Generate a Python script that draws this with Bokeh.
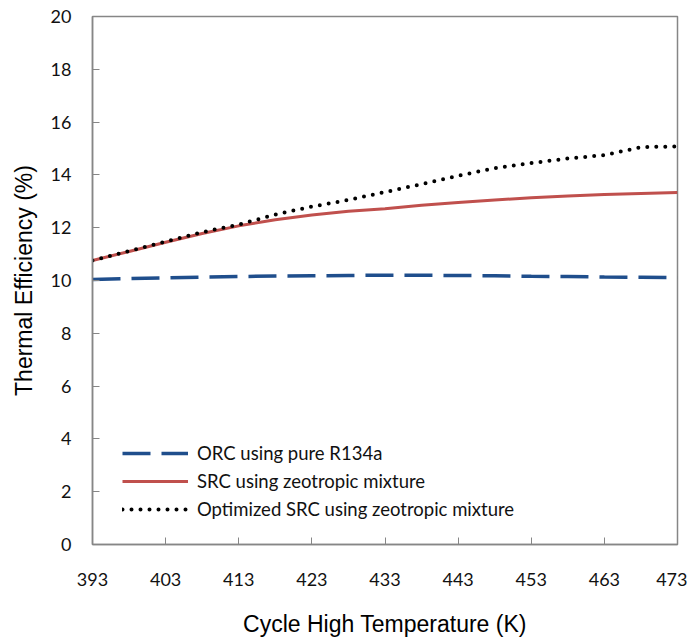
from bokeh.plotting import figure
from bokeh.models import Legend, LegendItem, FixedTicker
from bokeh.embed import file_html
from bokeh.resources import INLINE

temps = [393, 398, 403, 408, 413, 418, 423, 428, 433, 438, 443, 448, 453, 458, 463, 468, 473]
orc = [10.04, 10.07, 10.10, 10.13, 10.15, 10.17, 10.18, 10.19, 10.20, 10.20, 10.19, 10.18, 10.16, 10.15, 10.13, 10.12, 10.11]
src = [10.76, 11.10, 11.45, 11.78, 12.07, 12.30, 12.48, 12.62, 12.72, 12.85, 12.95, 13.05, 13.13, 13.20, 13.26, 13.30, 13.33]
opt = [10.76, 11.12, 11.47, 11.83, 12.12, 12.50, 12.80, 13.05, 13.35, 13.65, 13.97, 14.25, 14.45, 14.62, 14.75, 15.05, 15.08]
x_ticks = [393, 403, 413, 423, 433, 443, 453, 463, 473]
y_ticks = [0, 2, 4, 6, 8, 10, 12, 14, 16, 18, 20]
labels = ["ORC using pure R134a", "SRC using zeotropic mixture", "Optimized SRC using zeotropic mixture"]

p = figure(width=687, height=643, x_range=(393, 473), y_range=(0, 20),
           output_backend="svg", toolbar_location=None,
           min_border_left=92, min_border_right=10, min_border_top=16, min_border_bottom=99)
p.xgrid.visible = False
p.ygrid.visible = False
p.outline_line_color = "#868686"
p.outline_line_width = 1.5

r1 = p.line(temps, orc, line_color="#1F4E8C", line_width=3.5, line_dash="28 11")
r2 = p.line(temps, src, line_color="#C0504D", line_width=3)
r3 = p.line(temps, opt, line_color="black", line_width=4, line_dash="0 9", line_cap="round")

for ax in (p.xaxis[0], p.yaxis[0]):
    ax.axis_line_color = "#868686"
    ax.axis_line_width = 1.5
    ax.major_tick_line_color = "#868686"
    ax.major_tick_in = 7
    ax.major_tick_out = 0
    ax.minor_tick_line_color = None
    ax.major_label_text_font = "Lato"
    ax.major_label_text_font_size = "18px"
    ax.major_label_text_color = "#111111"
    ax.axis_label_text_font = "Liberation Sans"
    ax.axis_label_text_font_size = "23px"
    ax.axis_label_text_font_style = "normal"
    ax.axis_label_text_color = "black"

p.xaxis.ticker = FixedTicker(ticks=x_ticks)
p.yaxis.ticker = FixedTicker(ticks=y_ticks)
p.xaxis.axis_label = "Cycle High Temperature (K)"
p.yaxis.axis_label = "Thermal Efficiency (%)"
p.xaxis.major_label_standoff = 28
p.xaxis.axis_label_standoff = 22
p.yaxis.major_label_standoff = 21
p.yaxis.axis_label_standoff = 11

legend = Legend(items=[LegendItem(label=labels[0], renderers=[r1]),
                       LegendItem(label=labels[1], renderers=[r2]),
                       LegendItem(label=labels[2], renderers=[r3])],
                location=(30, 21), padding=0, margin=0, spacing=0,
                glyph_width=66, glyph_height=28, label_height=28,
                label_standoff=9, label_text_font="Lato", label_text_font_size="18.5px",
                label_text_color="#111111",
                border_line_color=None, background_fill_alpha=0)
p.add_layout(legend)

open("out.html", "w").write(file_html(p, INLINE))
